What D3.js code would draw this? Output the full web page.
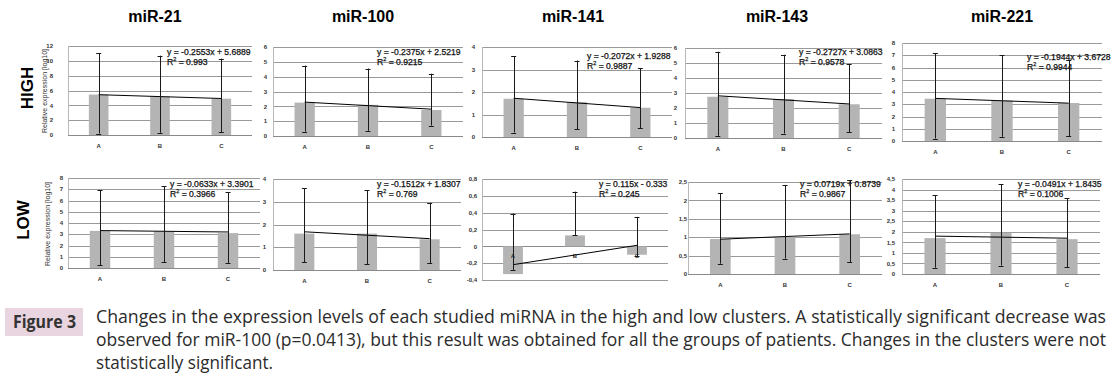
<!DOCTYPE html>
<html>
<head>
<meta charset="utf-8">
<script src="https://cdn.jsdelivr.net/npm/d3@7"></script>
<style>
  body { margin: 0; background: #fff; }
  svg { display: block; }
</style>
</head>
<body>
<svg id="fig" width="1115" height="376"></svg>
<script>
"use strict";
// values
const genes = ["miR-21", "miR-100", "miR-141", "miR-143", "miR-221"];
const groups = ["A", "B", "C"];

const highMean = [[5.45, 5.2, 4.9], [2.25, 2.1, 1.75], [1.7, 1.55, 1.3], [2.75, 2.6, 2.25], [3.45, 3.3, 3.1]];
const highErrLo = [[0.2, 0.3, 0.4], [0.3, 0.35, 0.7], [0.2, 0.35, 0.4], [0.15, 0.3, 0.4], [0.2, 0.35, 0.4]];
const highErrHi = [[11, 10.7, 10.3], [4.75, 4.55, 4.2], [3.6, 3.4, 3.05], [5.75, 5.55, 4.9], [7.15, 7.0, 6.6]];
const highSlope = [-0.2553, -0.2375, -0.2072, -0.2727, -0.1944];
const highIntercept = [5.6889, 2.5219, 1.9288, 3.0863, 3.6728];
const highR2 = ["0.993", "0.9215", "0.9887", "0.9578", "0.9944"];
const highYMin = [0, 0, 0, 0, 0];
const highYMax = [12, 6, 4, 6, 8];
const highYStep = [2, 1, 1, 1, 1];

const lowMean = [[3.3, 3.25, 3.1], [1.6, 1.6, 1.35], [-0.33, 0.13, -0.1], [0.95, 1.0, 1.08], [1.7, 1.95, 1.65]];
const lowErrLo = [[0.25, 0.5, 0.45], [0.35, 0.25, 0.3], [-0.28, 0.13, -0.12], [0.28, 0.42, 0.32], [0.3, 0.4, 0.33]];
const lowErrHi = [[6.9, 7.25, 6.75], [3.6, 3.5, 2.95], [0.39, 0.65, 0.35], [2.2, 2.42, 2.55], [3.72, 4.25, 3.6]];
const lowSlope = [-0.0633, -0.1512, 0.115, 0.0719, -0.0491];
const lowIntercept = [3.3901, 1.8307, -0.333, 0.8739, 1.8435];
const lowR2 = ["0.3966", "0.769", "0.245", "0.9867", "0.1006"];
const lowYMin = [0, 0, -0.4, 0, 0];
const lowYMax = [8, 4, 0.8, 2.5, 4.5];
const lowYStep = [1, 1, 0.2, 0.5, 0.5];

const captionLines = [
  "Changes in the expression levels of each studied miRNA in the high and low clusters. A statistically significant decrease was",
  "observed for miR-100 (p=0.0413), but this result was obtained for all the groups of patients. Changes in the clusters were not",
  "statistically significant."
];

// layout (plot boxes: left, right, top, bottom)
const highBox = [[68, 252, 46, 135], [273, 463, 47, 136], [482, 672, 47, 137], [685, 882, 48, 138], [902, 1102, 43, 141]];
const lowBox = [[68, 260, 178, 268], [273, 461, 179, 270], [482, 668, 179, 280], [688, 882, 182, 274], [902, 1100, 179, 274]];
const highLabelX = [53, 267, 475, 677, 895];
const lowLabelX = [63, 266, 477, 687, 895];
const highEqPos = [[167, 55], [377, 55], [587, 59], [799, 55], [1027, 60]];
const lowEqPos = [[170, 187], [377, 187], [599, 187], [800, 187], [1018, 187]];
const titleX = [155, 363, 573, 777, 1002];

const svg = d3.select("#fig");
const font = "Liberation Sans, Arial, sans-serif";

const fmtComma = v => {
  const r = Math.round(v * 100) / 100;
  return String(r).replace(".", ",");
};

function panel(box, labelX, eqPos, mean, lo, hi, slope, intercept, r2, yMin, yMax, step, comma) {
  const [L, R, T, B] = box;
  const x = d3.scaleBand().domain(groups).range([L, R]).paddingInner(0.68).paddingOuter(0.34);
  const y = d3.scaleLinear().domain([yMin, yMax]).range([B, T]);
  const ticks = d3.range(0, Math.round((yMax - yMin) / step) + 1).map(i => +(yMin + i * step).toFixed(3));
  const g = svg.append("g");

  // gridlines
  g.selectAll(".grid").data(ticks).enter().append("line")
    .attr("x1", L).attr("x2", R)
    .attr("y1", d => Math.round(y(d)) + 0.5).attr("y2", d => Math.round(y(d)) + 0.5)
    .attr("stroke", d => d === 0 ? "#8a8a8a" : "#9a9a9a").attr("stroke-width", 1);
  // left axis
  g.append("line").attr("x1", L + 0.5).attr("x2", L + 0.5).attr("y1", T).attr("y2", B)
    .attr("stroke", "#b8b8b8");

  // tick labels
  g.selectAll(".tl").data(ticks).enter().append("text")
    .attr("x", labelX).attr("y", d => y(d) + 2.2)
    .attr("text-anchor", "end").attr("font-family", font).attr("font-size", 6)
    .attr("font-weight", "bold").attr("fill", "#333")
    .text(d => comma ? fmtComma(d) : d);

  // bars
  g.selectAll(".bar").data(groups).enter().append("rect")
    .attr("x", d => x(d)).attr("width", x.bandwidth())
    .attr("y", (d, i) => y(Math.max(0, mean[i])))
    .attr("height", (d, i) => Math.abs(y(mean[i]) - y(0)))
    .attr("fill", "#b4b4b4");

  // category labels
  const catY = yMin < 0 ? y(0) + 12 : B + 13;
  g.selectAll(".cl").data(groups).enter().append("text")
    .attr("x", d => x(d) + x.bandwidth() / 2).attr("y", catY)
    .attr("text-anchor", "middle").attr("font-family", font).attr("font-size", 6)
    .attr("font-weight", "bold").attr("fill", "#333").text(d => d);

  // trend line
  const cx = d => x(d) + x.bandwidth() / 2;
  g.append("line")
    .attr("x1", cx("A")).attr("y1", y(slope + intercept))
    .attr("x2", cx("C")).attr("y2", y(slope * 3 + intercept))
    .attr("stroke", "#000").attr("stroke-width", 1);

  // error bars
  const eb = g.selectAll(".eb").data(groups).enter().append("g");
  eb.append("line").attr("x1", d => Math.round(cx(d)) + 0.5).attr("x2", d => Math.round(cx(d)) + 0.5)
    .attr("y1", (d, i) => y(lo[i])).attr("y2", (d, i) => y(hi[i]))
    .attr("stroke", "#1a1a1a").attr("stroke-width", 1);
  [lo, hi].forEach(arr => {
    eb.append("line").attr("x1", d => cx(d) - 2.5).attr("x2", d => cx(d) + 2.5)
      .attr("y1", (d, i) => Math.round(y(arr[i])) + 0.5).attr("y2", (d, i) => Math.round(y(arr[i])) + 0.5)
      .attr("stroke", "#1a1a1a").attr("stroke-width", 1);
  });

  // equation
  const eq = "y = " + slope + "x " + (intercept < 0 ? "- " : "+ ") + Math.abs(intercept);
  g.append("text").attr("x", eqPos[0]).attr("y", eqPos[1])
    .attr("font-family", font).attr("font-size", 8.6).attr("fill", "#111")
    .attr("stroke", "#111").attr("stroke-width", 0.25)
    .text(eq);
  const rt = g.append("text").attr("x", eqPos[0]).attr("y", eqPos[1] + 9.5)
    .attr("font-family", font).attr("font-size", 8.6).attr("fill", "#111")
    .attr("stroke", "#111").attr("stroke-width", 0.25);
  rt.append("tspan").text("R");
  rt.append("tspan").attr("dy", -3.5).attr("font-size", 5.5).text("2");
  rt.append("tspan").attr("dy", 3.5).text(" = " + r2);
}

genes.forEach((gname, i) => {
  panel(highBox[i], highLabelX[i], highEqPos[i], highMean[i], highErrLo[i], highErrHi[i],
    highSlope[i], highIntercept[i], highR2[i], highYMin[i], highYMax[i], highYStep[i], false);
  panel(lowBox[i], lowLabelX[i], lowEqPos[i], lowMean[i], lowErrLo[i], lowErrHi[i],
    lowSlope[i], lowIntercept[i], lowR2[i], lowYMin[i], lowYMax[i], lowYStep[i], true);
  svg.append("text").attr("x", titleX[i]).attr("y", 22).attr("text-anchor", "middle")
    .attr("font-family", font).attr("font-size", 16).attr("font-weight", "bold").attr("fill", "#000")
    .text(gname);
});

// row labels
[["HIGH", 27, 88], ["LOW", 23, 220]].forEach(([t, rx, ry]) => {
  svg.append("text").attr("transform", `translate(${rx + 6},${ry}) rotate(-90)`)
    .attr("text-anchor", "middle").attr("font-family", font).attr("font-size", 17)
    .attr("font-weight", "bold").attr("fill", "#000").text(t);
});

// y axis titles
[[44, 91], [47, 224]].forEach(([ax, ay]) => {
  svg.append("text").attr("transform", `translate(${ax + 2.5},${ay}) rotate(-90)`)
    .attr("text-anchor", "middle").attr("font-family", font).attr("font-size", 7)
    .attr("fill", "#333").text("Relative expression [log10]");
});

// caption
svg.append("rect").attr("x", 5).attr("y", 308).attr("width", 78).attr("height", 28).attr("fill", "#e9d5df");
svg.append("text").attr("x", 13).attr("y", 328).attr("font-family", "Open Sans, sans-serif")
  .attr("font-size", 17).attr("font-weight", "bold").attr("fill", "#333")
  .attr("textLength", 63).attr("lengthAdjust", "spacingAndGlyphs").text("Figure 3");
const capLen = [1010, 1010, 177];
captionLines.forEach((t, i) => {
  svg.append("text").attr("x", 96).attr("y", 323 + i * 23)
    .attr("font-family", "Open Sans, sans-serif").attr("font-size", 17.5).attr("fill", "#2b2b2b")
    .attr("textLength", capLen[i]).attr("lengthAdjust", "spacingAndGlyphs").text(t);
});
</script>
</body>
</html>
